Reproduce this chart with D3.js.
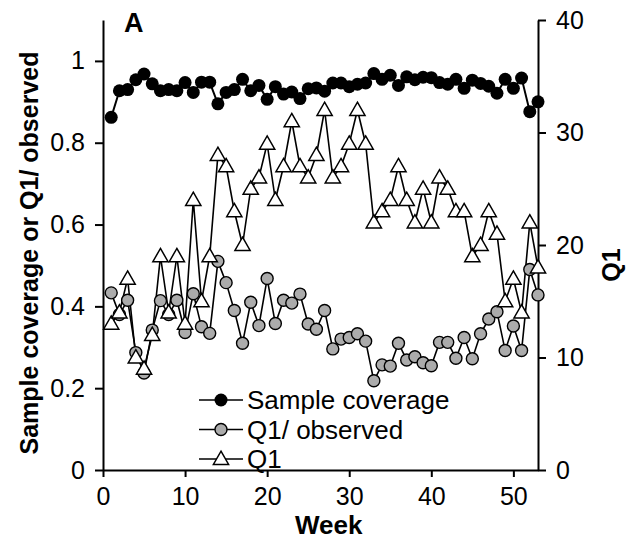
<!DOCTYPE html>
<html>
<head>
<meta charset="utf-8">
<script src="https://cdn.jsdelivr.net/npm/d3@7"></script>
<style>
  body { margin: 0; background: #fff; }
  svg { display: block; font-family: "Liberation Sans", Arial, sans-serif; }
</style>
</head>
<body>
<svg id="chart" width="626" height="544"></svg>
<script>
const weeks = d3.range(1, 54);

const sampleCoverage = [
  0.862, 0.927, 0.930, 0.954, 0.968, 0.944, 0.927, 0.930, 0.927, 0.947,
  0.923, 0.948, 0.948, 0.895, 0.923, 0.930, 0.955, 0.927, 0.940, 0.906,
  0.937, 0.919, 0.924, 0.908, 0.932, 0.934, 0.926, 0.946, 0.946, 0.937,
  0.943, 0.946, 0.969, 0.955, 0.965, 0.940, 0.961, 0.954, 0.960, 0.959,
  0.947, 0.943, 0.955, 0.933, 0.953, 0.945, 0.938, 0.921, 0.955, 0.933,
  0.958, 0.876, 0.900,
];

const q1Observed = [
  0.433, 0.380, 0.415, 0.287, 0.237, 0.342, 0.414, 0.380, 0.415, 0.336,
  0.431, 0.350, 0.334, 0.510, 0.458, 0.390, 0.310, 0.410, 0.353, 0.468,
  0.358, 0.415, 0.408, 0.430, 0.357, 0.344, 0.390, 0.296, 0.320, 0.324,
  0.333, 0.315, 0.218, 0.257, 0.254, 0.310, 0.269, 0.277, 0.262, 0.255,
  0.312, 0.312, 0.273, 0.324, 0.272, 0.333, 0.369, 0.387, 0.292, 0.352,
  0.292, 0.490, 0.428,
];

const q1 = [
  13, 14, 17, 10, 9, 12, 19, 14, 19, 13,
  24, 15, 19, 28, 27, 23, 20, 25, 26, 29,
  24, 27, 31, 27, 26, 28, 32, 26, 27, 29,
  32, 29, 22, 23, 24, 27, 24, 22, 25, 22,
  26, 25, 23, 23, 19, 20, 23, 21, 15, 17,
  14, 22, 18,
];

const xTicks = [0, 10, 20, 30, 40, 50];
const yLeftTicks = [0, 0.2, 0.4, 0.6, 0.8, 1];
const yRightTicks = [0, 10, 20, 30, 40];
const legendLabels = ["Sample coverage", "Q1/ observed", "Q1"];

const margin = { top: 20, right: 88, bottom: 74, left: 103 };
const width = 626;
const height = 544;
const chartWidth = width - margin.left - margin.right;
const chartHeight = height - margin.top - margin.bottom;

const svg = d3.select("#chart");
const chart = svg
  .append("g")
  .attr("transform", `translate(${margin.left},${margin.top})`);

const x = d3.scaleLinear().domain([0, 53]).range([0, chartWidth]);
const yLeft = d3.scaleLinear().domain([0, 1.1]).range([chartHeight, 0]);
const yRight = d3.scaleLinear().domain([0, 40]).range([chartHeight, 0]);

const styleAxis = (g) => {
  g.select(".domain").attr("stroke", "#000").attr("stroke-width", 2);
  g.selectAll(".tick line").attr("stroke", "#000").attr("stroke-width", 2);
  g.selectAll(".tick text")
    .attr("fill", "#000")
    .attr("font-size", 25)
    .attr("font-family", "Liberation Sans, Arial, sans-serif");
};

chart
  .append("g")
  .attr("transform", `translate(0,${chartHeight})`)
  .call(
    d3.axisBottom(x).tickValues(xTicks).tickSize(7).tickPadding(10).tickSizeOuter(0)
  )
  .call(styleAxis);

chart
  .append("g")
  .call(
    d3
      .axisLeft(yLeft)
      .tickValues(yLeftTicks)
      .tickFormat(d3.format("~g"))
      .tickSize(8)
      .tickPadding(10)
      .tickSizeOuter(0)
  )
  .call(styleAxis);

chart
  .append("g")
  .attr("transform", `translate(${chartWidth},0)`)
  .call(
    d3.axisRight(yRight).tickValues(yRightTicks).tickSize(8).tickPadding(10).tickSizeOuter(0)
  )
  .call(styleAxis);

// series lines
const lineLeft = d3
  .line()
  .x((d, i) => x(weeks[i]))
  .y((d) => yLeft(d));
const lineRight = d3
  .line()
  .x((d, i) => x(weeks[i]))
  .y((d) => yRight(d));

const triangle = d3.symbol().type(d3.symbolTriangle).size(100);

chart
  .append("path")
  .datum(q1)
  .attr("fill", "none")
  .attr("stroke", "#000")
  .attr("stroke-width", 1.6)
  .attr("d", lineRight);

chart
  .append("path")
  .datum(q1Observed)
  .attr("fill", "none")
  .attr("stroke", "#000")
  .attr("stroke-width", 1.6)
  .attr("d", lineLeft);

chart
  .append("g")
  .selectAll("circle")
  .data(q1Observed)
  .join("circle")
  .attr("cx", (d, i) => x(weeks[i]))
  .attr("cy", (d) => yLeft(d))
  .attr("r", 6)
  .attr("fill", "#ababab")
  .attr("stroke", "#000")
  .attr("stroke-width", 1.4);

chart
  .append("g")
  .selectAll("path")
  .data(q1)
  .join("path")
  .attr("transform", (d, i) => `translate(${x(weeks[i])},${yRight(d) + 1})`)
  .attr("d", triangle)
  .attr("fill", "#fff")
  .attr("stroke", "#000")
  .attr("stroke-width", 1.5);

chart
  .append("path")
  .datum(sampleCoverage)
  .attr("fill", "none")
  .attr("stroke", "#000")
  .attr("stroke-width", 2)
  .attr("d", lineLeft);

chart
  .append("g")
  .selectAll("circle")
  .data(sampleCoverage)
  .join("circle")
  .attr("cx", (d, i) => x(weeks[i]))
  .attr("cy", (d) => yLeft(d))
  .attr("r", 6.5)
  .attr("fill", "#000");

// legend
const legend = svg.append("g").attr("transform", "translate(199,400)");
legendLabels.forEach((label, i) => {
  const row = legend.append("g").attr("transform", `translate(0,${i * 29.5})`);
  row
    .append("line")
    .attr("x1", 0)
    .attr("x2", 44)
    .attr("stroke", "#000")
    .attr("stroke-width", 1.6);
  if (i === 0) {
    row.append("circle").attr("cx", 22).attr("r", 6.5).attr("fill", "#000");
  } else if (i === 1) {
    row
      .append("circle")
      .attr("cx", 22)
      .attr("r", 6)
      .attr("fill", "#ababab")
      .attr("stroke", "#000")
      .attr("stroke-width", 1.4);
  } else {
    row
      .append("path")
      .attr("transform", "translate(22,1)")
      .attr("d", triangle)
      .attr("fill", "#fff")
      .attr("stroke", "#000")
      .attr("stroke-width", 1.5);
  }
  row
    .append("text")
    .attr("x", 48)
    .attr("dy", "0.35em")
    .attr("font-size", 26)
    .text(label);
});

// titles
svg
  .append("text")
  .attr("transform", `translate(38,${margin.top + chartHeight / 2 + 8}) rotate(-90)`)
  .attr("text-anchor", "middle")
  .attr("font-size", 25)
  .attr("font-weight", "bold")
  .text("Sample coverage or Q1/ observed");

svg
  .append("text")
  .attr("transform", `translate(620,${margin.top + chartHeight / 2 + 20}) rotate(-90)`)
  .attr("text-anchor", "middle")
  .attr("font-size", 25)
  .attr("font-weight", "bold")
  .text("Q1");

svg
  .append("text")
  .attr("x", margin.left + x(27.5))
  .attr("y", 534)
  .attr("text-anchor", "middle")
  .attr("font-size", 26)
  .attr("font-weight", "bold")
  .text("Week");

svg
  .append("text")
  .attr("x", 124)
  .attr("y", 32)
  .attr("font-size", 27)
  .attr("font-weight", "bold")
  .text("A");
</script>
</body>
</html>
